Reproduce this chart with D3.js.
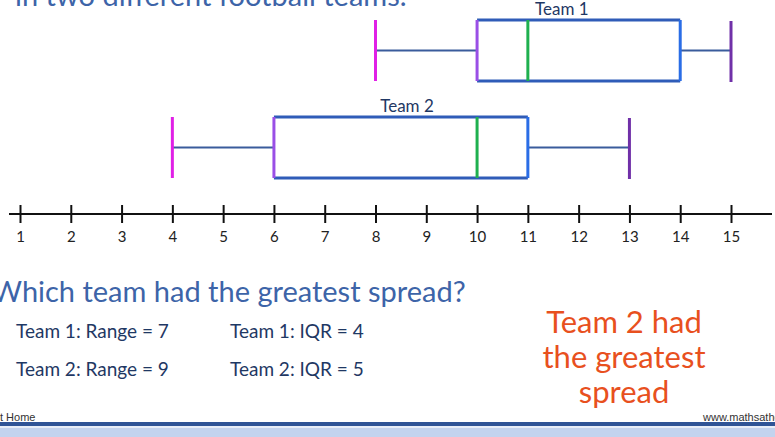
<!DOCTYPE html>
<html><head><meta charset="utf-8">
<script src="https://cdn.jsdelivr.net/npm/d3@7"></script>
<style>html,body{margin:0;padding:0;background:#fff;overflow:hidden}</style>
</head><body>
<script>
const teams = ["Team 1", "Team 2"];
const mins = [8, 4];
const q1s = [10, 6];
const medians = [11, 10];
const q3s = [14, 11];
const maxs = [15, 13];
const ticks = [1,2,3,4,5,6,7,8,9,10,11,12,13,14,15];
const statLines = [["Team 1: Range = 7", "Team 1: IQR = 4"], ["Team 2: Range = 9", "Team 2: IQR = 5"]];
const answer = ["Team 2 had", "the greatest", "spread"];

const W = 775, H = 437;
const svg = d3.select("body").append("svg").attr("width", W).attr("height", H);
const font = "Lato, 'Open Sans', sans-serif";

const x = d3.scaleLinear().domain([1, 15]).range([20, 731]);
const rowY = d3.scaleOrdinal().domain(teams).range([20, 117]);
const labelAt = d3.scaleOrdinal().domain(teams).range([11.67, 8.62]);
const boxH = 61;

// title (cropped)
svg.append("text").attr("x", 15).attr("y", 6).attr("font-family", font).style("font-size", "29px")
  .attr("fill", "#3d64a8").text("in two different football teams.");

teams.forEach((t, i) => {
  const y0 = rowY(t), ym = y0 + boxH / 2;
  const g = svg.append("g");
  g.append("line").attr("x1", x(mins[i])).attr("x2", x(q1s[i])).attr("y1", ym).attr("y2", ym)
    .attr("stroke", "#3a5c9c").attr("stroke-width", 2);
  g.append("line").attr("x1", x(q3s[i])).attr("x2", x(maxs[i])).attr("y1", ym).attr("y2", ym)
    .attr("stroke", "#3a5c9c").attr("stroke-width", 2);
  [y0, y0 + boxH].forEach(yy => g.append("line").attr("x1", x(q1s[i])).attr("x2", x(q3s[i]))
    .attr("y1", yy).attr("y2", yy).attr("stroke", "#2f5cb8").attr("stroke-width", 3));
  g.append("line").attr("x1", x(q1s[i])).attr("x2", x(q1s[i])).attr("y1", y0).attr("y2", y0 + boxH)
    .attr("stroke", "#9a4fe6").attr("stroke-width", 3);
  g.append("line").attr("x1", x(q3s[i])).attr("x2", x(q3s[i])).attr("y1", y0).attr("y2", y0 + boxH)
    .attr("stroke", "#2a6de6").attr("stroke-width", 3);
  g.append("line").attr("x1", x(medians[i])).attr("x2", x(medians[i])).attr("y1", y0).attr("y2", y0 + boxH)
    .attr("stroke", "#1fb04f").attr("stroke-width", 3);
  g.append("line").attr("x1", x(mins[i])).attr("x2", x(mins[i])).attr("y1", y0).attr("y2", y0 + boxH)
    .attr("stroke", "#e020e6").attr("stroke-width", 3);
  g.append("line").attr("x1", x(maxs[i])).attr("x2", x(maxs[i])).attr("y1", y0 + 1).attr("y2", y0 + boxH + 1)
    .attr("stroke", "#7030a8").attr("stroke-width", 3);
  g.append("text").attr("x", x(labelAt(t))).attr("y", y0 - 5).attr("text-anchor", "middle")
    .attr("font-family", font).style("font-size", "17px").attr("fill", "#1f3864").text(t);
});

// number line
const axisY = 214;
svg.append("line").attr("x1", 9).attr("x2", 772).attr("y1", axisY).attr("y2", axisY)
  .attr("stroke", "#111").attr("stroke-width", 2);
const axis = d3.axisBottom(x).tickValues(ticks).tickSize(0).tickPadding(0).tickFormat(d => String(d));
const ag = svg.append("g").attr("transform", `translate(0,${axisY})`).call(axis);
ag.attr("font-size", 15).attr("font-family", "Lato, sans-serif");
ag.select(".domain").remove();
ag.selectAll(".tick line").remove();
ag.selectAll(".tick").append("line").attr("y1", -9).attr("y2", 9).attr("stroke", "#111").attr("stroke-width", 2);
ag.selectAll(".tick text").attr("y", 17).attr("dy", "0.71em")
  .attr("font-size", 15).attr("font-family", "Lato, sans-serif").attr("fill", "#222");

// question
svg.append("text").attr("x", -8).attr("y", 302).attr("font-family", font).style("font-size", "29px")
  .attr("fill", "#3d64a8").text("Which team had the greatest spread?");

statLines.forEach((row, i) => {
  row.forEach((s, j) => {
    svg.append("text").attr("x", j === 0 ? 16 : 230).attr("y", 338 + i * 38)
      .attr("font-family", font).style("font-size", "19px").attr("fill", "#1f3864").text(s);
  });
});

answer.forEach((s, i) => {
  svg.append("text").attr("x", 624).attr("y", 333 + i * 35).attr("text-anchor", "middle")
    .attr("font-family", font).style("font-size", "31px").attr("fill", "#e8501e").text(s);
});

// footer
svg.append("text").attr("x", 0).attr("y", 421).attr("font-family", "'Liberation Sans', Arial, sans-serif")
  .style("font-size", "11px").attr("fill", "#333").text("t Home");
svg.append("text").attr("x", 703).attr("y", 421).attr("font-family", "'Liberation Sans', Arial, sans-serif")
  .style("font-size", "11px").attr("fill", "#333").text("www.mathsathome.com");
svg.append("rect").attr("x", 0).attr("y", 422).attr("width", W).attr("height", 4).attr("fill", "#2f5496");
svg.append("rect").attr("x", 0).attr("y", 426).attr("width", W).attr("height", 2).attr("fill", "#e8eef8");
svg.append("rect").attr("x", 0).attr("y", 428).attr("width", W).attr("height", 9).attr("fill", "#c3d3ee");
</script>
</body></html>
